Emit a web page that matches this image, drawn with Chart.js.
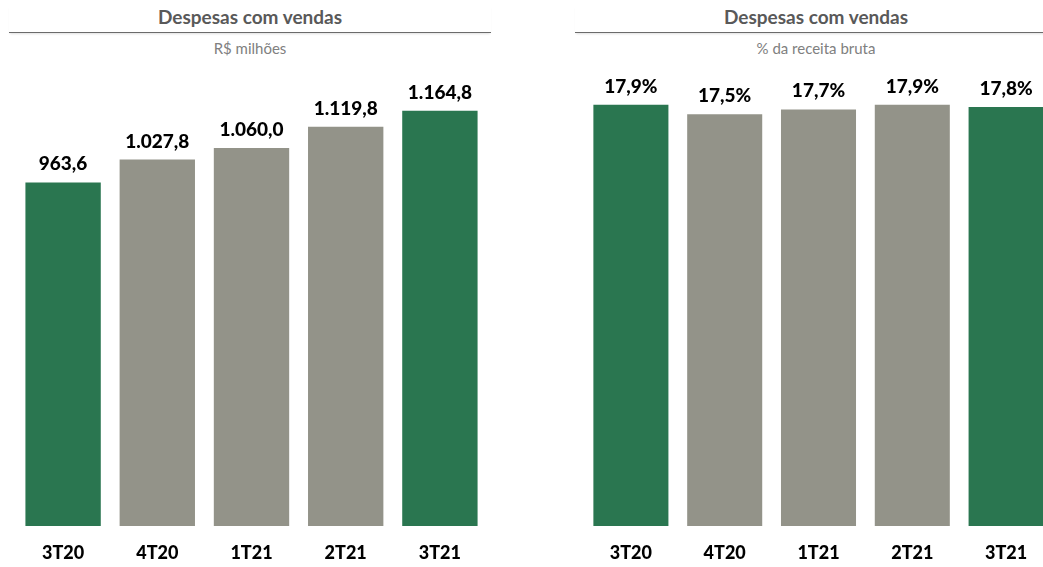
<!DOCTYPE html>
<html lang="pt-BR">
<head>
<meta charset="UTF-8">
<script src="https://cdn.jsdelivr.net/npm/chart.js@4.4.0/dist/chart.umd.min.js"></script>
<style>
    html, body { margin: 0; padding: 0; background: #fff; }
    body { width: 1043px; height: 567px; overflow: hidden; position: relative; font-family: Lato, "Open Sans", sans-serif; }
    .titulo { position: absolute; top: 5px; height: 27px; border-bottom: 1px solid #6b6b6b; box-shadow: 0 2px 2px -1px rgba(0,0,0,0.12);
        text-align: center; font-weight: bold; font-size: 19px; color: #595959; line-height: 24px; }
    .subtitulo { position: absolute; top: 39px; text-align: center; font-size: 15px; color: #808080; }
    .grafico { position: absolute; top: 60px; height: 507px; }
</style>
</head>
<body>
    <div class="titulo" style="left:9px;width:482px">Despesas com vendas</div>
    <div class="subtitulo" style="left:9px;width:482px">R$ milhões</div>
    <div class="grafico" style="left:16px;width:471px"><canvas id="graficoMilhoes"></canvas></div>

    <div class="titulo" style="left:575px;width:482px">Despesas com vendas</div>
    <div class="subtitulo" style="left:575px;width:482px">% da receita bruta</div>
    <div class="grafico" style="left:584px;width:469px"><canvas id="graficoPercentual"></canvas></div>

<script>
    var categorias = ['3T20', '4T20', '1T21', '2T21', '3T21'];
    var despesasMilhoes = [963.6, 1027.8, 1060.0, 1119.8, 1164.8];
    var despesasPercentual = [17.9, 17.5, 17.7, 17.9, 17.8];
    var cores = ['#2a7650', '#939389', '#939389', '#939389', '#2a7650'];

    // formato brasileiro: 1.164,8
    function formatar(v) {
        var partes = v.toFixed(1).split('.');
        var inteiro = partes[0].replace(/\B(?=(\d{3})+(?!\d))/g, '.');
        return inteiro + ',' + partes[1];
    }

    var rotulos = {
        id: 'rotulos',
        afterDatasetsDraw: function (chart) {
            var ctx = chart.ctx;
            var meta = chart.getDatasetMeta(0);
            var sufixo = chart.options.plugins.rotulos.sufixo;
            ctx.save();
            ctx.font = '900 19px Lato, "Open Sans", sans-serif';
            ctx.fillStyle = '#000';
            ctx.textAlign = 'center';
            ctx.textBaseline = 'alphabetic';
            meta.data.forEach(function (bar, i) {
                ctx.fillText(formatar(chart.data.datasets[0].data[i]) + sufixo, bar.x, bar.y - 12);
            });
            ctx.restore();
        }
    };

    function criarGrafico(id, valores, maximo, sufixo) {
        return new Chart(document.getElementById(id), {
            type: 'bar',
            data: {
                labels: categorias,
                datasets: [{
                    data: valores,
                    backgroundColor: cores,
                    barPercentage: 0.8,
                    categoryPercentage: 1
                }]
            },
            options: {
                responsive: true,
                maintainAspectRatio: false,
                animation: false,
                layout: { padding: { top: 0, bottom: 3, left: 0, right: 0 } },
                plugins: {
                    legend: { display: false },
                    tooltip: { enabled: false },
                    rotulos: { sufixo: sufixo }
                },
                scales: {
                    x: {
                        grid: { display: false, drawTicks: false },
                        border: { display: false },
                        ticks: { color: '#000', padding: 16, font: { family: 'Lato, "Open Sans", sans-serif', size: 18, weight: '900' } },
                        afterFit: function (scale) { scale.height = 38; }
                    },
                    y: { display: false, min: 0, max: maximo }
                }
            },
            plugins: [rotulos]
        });
    }

    criarGrafico('graficoMilhoes', despesasMilhoes, 1307, '');
    criarGrafico('graficoPercentual', despesasPercentual, 19.8, '%');
</script>
</body>
</html>
